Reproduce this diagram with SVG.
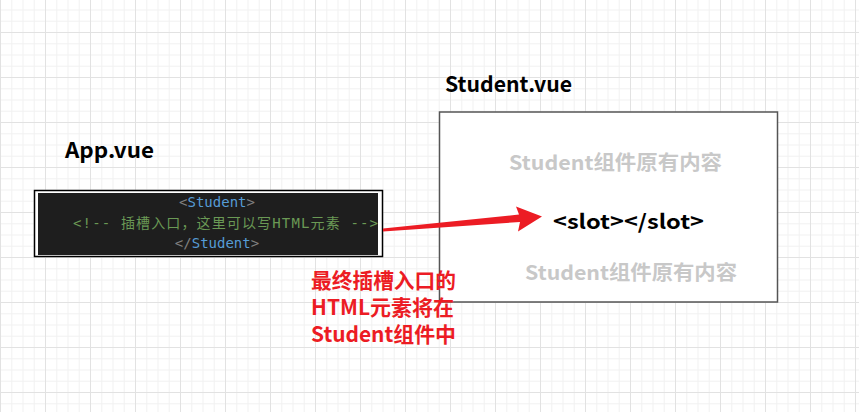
<svg xmlns="http://www.w3.org/2000/svg" width="859" height="412" viewBox="0 0 859 412">
<style>
.title{font-family:"Microsoft YaHei","Noto Sans CJK SC","Liberation Sans",sans-serif;font-weight:bold;font-size:21px;fill:#000}
.ghost{font-family:"Microsoft YaHei","Noto Sans CJK SC","Liberation Sans",sans-serif;font-weight:bold;font-size:20px;fill:#c8c8c8}
.slot{font-family:"Microsoft YaHei","Noto Sans CJK SC","Liberation Sans",sans-serif;font-weight:bold;font-size:20px;fill:#000}
.note{font-family:"Microsoft YaHei","Noto Sans CJK SC","Liberation Sans",sans-serif;font-weight:bold;font-size:21px;fill:#ec1c24}
.code{font-family:"DejaVu Sans Mono","Liberation Mono","Noto Sans CJK SC",monospace;font-size:14px}
.br{fill:#808080}
.tag{fill:#569cd6}
.cm{fill:#6a9955}
</style>
<defs>
<pattern id="grid" x="0" y="32" width="45" height="45" patternUnits="userSpaceOnUse">
<rect width="45" height="45" fill="#fff"/>
<rect x="11.25" y="0" width="1" height="45" fill="#f2f2f2"/>
<rect x="22.5" y="0" width="1" height="45" fill="#f2f2f2"/>
<rect x="33.75" y="0" width="1" height="45" fill="#f2f2f2"/>
<rect x="0" y="11.25" width="45" height="1" fill="#f2f2f2"/>
<rect x="0" y="22.5" width="45" height="1" fill="#f2f2f2"/>
<rect x="0" y="33.75" width="45" height="1" fill="#f2f2f2"/>
<rect x="0" y="0" width="1" height="45" fill="#e2e2e2"/>
<rect x="0" y="0" width="45" height="1" fill="#e2e2e2"/>
</pattern>
</defs>
<rect width="859" height="412" fill="url(#grid)"/>

<g id="app-label">
<text class="title" x="65" y="158" textLength="89" lengthAdjust="spacingAndGlyphs">App.vue</text>
</g>

<g id="app-code">
<rect x="34.5" y="190.5" width="348" height="66" fill="#fff" stroke="#000" stroke-width="1.5"/>
<rect x="38" y="193" width="340" height="62" fill="#1e1e1e"/>
<text class="code" x="217" y="207" text-anchor="middle"><tspan class="br">&lt;</tspan><tspan class="tag">Student</tspan><tspan class="br">&gt;</tspan></text>
<text class="code cm" x="73" y="228" textLength="305" lengthAdjust="spacing">&lt;!-- 插槽入口，这里可以写HTML元素 --&gt;</text>
<text class="code" x="217" y="248" text-anchor="middle"><tspan class="br">&lt;/</tspan><tspan class="tag">Student</tspan><tspan class="br">&gt;</tspan></text>
</g>

<g id="student-label">
<text class="title" x="445" y="92" textLength="127" lengthAdjust="spacingAndGlyphs">Student.vue</text>
</g>

<g id="student-box">
<rect x="439.5" y="112" width="338" height="190" fill="#fff" stroke="#555" stroke-width="1.5"/>
<text class="ghost" x="509" y="170" textLength="213" lengthAdjust="spacingAndGlyphs">Student组件原有内容</text>
<text class="slot" x="553" y="229" textLength="151" lengthAdjust="spacingAndGlyphs">&lt;slot&gt;&lt;/slot&gt;</text>
<text class="ghost" x="525" y="280" textLength="212" lengthAdjust="spacingAndGlyphs">Student组件原有内容</text>
</g>

<g id="note">
<text class="note" x="311" y="288" textLength="145" lengthAdjust="spacingAndGlyphs">最终插槽入口的</text>
<text class="note" x="311" y="315" textLength="143" lengthAdjust="spacingAndGlyphs">HTML元素将在</text>
<text class="note" x="311" y="342" textLength="145" lengthAdjust="spacingAndGlyphs">Student组件中</text>
</g>

<g id="connectors">
<polygon points="383,228.5 519,214.5 516,206.5 542,216.5 518,231.5 520,222 383,231.5" fill="#ec1c24"/>
</g>
</svg>
